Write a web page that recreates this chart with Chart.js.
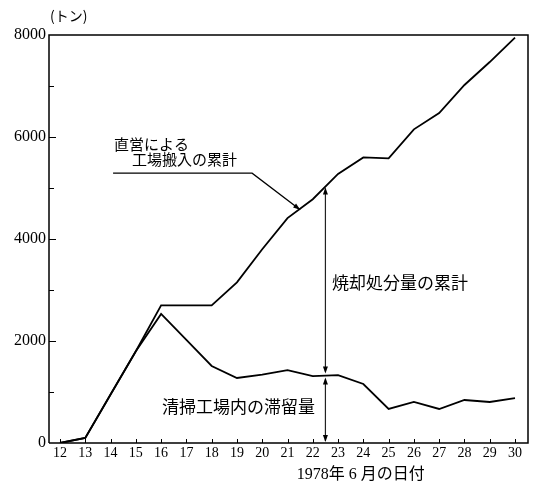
<!DOCTYPE html>
<html>
<head>
<meta charset="utf-8">
<script src="https://cdn.jsdelivr.net/npm/chart.js@4/dist/chart.umd.min.js"></script>
<style>
  html, body { margin: 0; padding: 0; background: #fff; }
  #wrap { width: 536px; height: 485px; }
</style>
</head>
<body>
<div id="wrap"><canvas id="c" width="536" height="485"></canvas></div>
<script>
// June 1978, day of month
const days = [12, 13, 14, 15, 16, 17, 18, 19, 20, 21, 22, 23, 24, 25, 26, 27, 28, 29, 30];
// cumulative tonnage delivered to the plants by the city's own collection
const cumulativeDelivered = [0, 100, 950, 1800, 2700, 2700, 2700, 3150, 3800, 4410, 4780, 5275, 5600, 5580, 6150, 6470, 7020, 7470, 7950];
// tonnage held inside the cleaning plants
const plantStock = [0, 100, 950, 1800, 2530, 2020, 1510, 1275, 1340, 1430, 1313, 1330, 1157, 667, 804, 667, 843, 804, 882];
const yTickLabels = [0, 2000, 4000, 6000, 8000];

const unitLabel = '(トン)';
const xTitle = '1978年 6 月の日付';
const deliveredLabel = ['直営による', '工場搬入の累計'];
const burnedLabel = '焼却処分量の累計';
const stockLabel = '清掃工場内の滞留量';

const serif = '"Liberation Serif", "Noto Sans CJK JP", serif';
const jp = '"Noto Sans CJK JP", sans-serif';

function valueAt(arr, day) {
  const i = Math.floor(day - days[0]);
  const f = day - days[0] - i;
  if (i >= arr.length - 1) return arr[arr.length - 1];
  return arr[i] + (arr[i + 1] - arr[i]) * f;
}

function arrowHead(ctx, x, y, angle) {
  const len = 7, half = 2.5;
  ctx.save();
  ctx.translate(x, y);
  ctx.rotate(angle);
  ctx.beginPath();
  ctx.moveTo(0, 0);
  ctx.lineTo(-len, -half);
  ctx.lineTo(-len, half);
  ctx.closePath();
  ctx.fill();
  ctx.restore();
}

const decorations = {
  id: 'decorations',
  afterDraw(chart) {
    const { ctx, chartArea: a, scales: { x, y } } = chart;
    ctx.save();
    ctx.strokeStyle = '#000';
    ctx.fillStyle = '#000';

    // frame
    ctx.lineWidth = 1.5;
    ctx.beginPath();
    ctx.moveTo(a.left, a.bottom);
    ctx.lineTo(a.left, a.top);
    ctx.lineTo(a.right, a.top);
    ctx.lineTo(a.right, a.bottom);
    ctx.lineTo(a.left, a.bottom);
    ctx.stroke();

    // inward tick marks
    ctx.lineWidth = 1;
    ctx.beginPath();
    for (let v = 1000; v < 8000; v += 1000) {
      const py = Math.round(y.getPixelForValue(v)) + 0.5;
      const len = v % 2000 === 0 ? 7 : 5;
      ctx.moveTo(a.left, py);
      ctx.lineTo(a.left + len, py);
    }
    days.forEach(d => {
      const px = Math.round(x.getPixelForValue(d)) + 0.5;
      ctx.moveTo(px, a.bottom);
      ctx.lineTo(px, a.bottom - 4);
    });
    ctx.stroke();

    // burned amount: gap between delivered and stock, and stock down to zero
    const dMid = 22.5;
    const px = x.getPixelForValue(dMid);
    const yTop = y.getPixelForValue(valueAt(cumulativeDelivered, dMid));
    const yMid = y.getPixelForValue(valueAt(plantStock, dMid));
    const yZero = y.getPixelForValue(0);
    ctx.strokeStyle = '#222';
    ctx.lineWidth = 1.2;
    ctx.beginPath();
    ctx.moveTo(px, yTop + 2);
    ctx.lineTo(px, yMid - 4);
    ctx.moveTo(px, yMid + 4);
    ctx.lineTo(px, yZero - 2);
    ctx.stroke();
    arrowHead(ctx, px, yTop + 1, -Math.PI / 2);
    arrowHead(ctx, px, yMid - 2, Math.PI / 2);
    arrowHead(ctx, px, yMid + 2, -Math.PI / 2);
    arrowHead(ctx, px, yZero - 1, Math.PI / 2);

    // leader from the delivered label to its line
    const lx0 = x.getPixelForValue(14.1);
    const lx1 = x.getPixelForValue(19.6);
    const ly = y.getPixelForValue(5290);
    const tDay = 21.5;
    const tx = x.getPixelForValue(tDay);
    const ty = y.getPixelForValue(valueAt(cumulativeDelivered, tDay)) + 1;
    ctx.strokeStyle = '#000';
    ctx.lineWidth = 1.3;
    ctx.beginPath();
    ctx.moveTo(lx0, ly);
    ctx.lineTo(lx1, ly);
    ctx.lineTo(tx, ty);
    ctx.stroke();
    arrowHead(ctx, tx, ty, Math.atan2(ty - ly, tx - lx1));

    // texts
    ctx.textBaseline = 'middle';
    ctx.textAlign = 'left';
    ctx.font = '15px ' + jp;
    ctx.fillText(deliveredLabel[0], 114, 144);
    ctx.fillText(deliveredLabel[1], 132, 159);
    ctx.font = '17px ' + jp;
    ctx.fillText(burnedLabel, 332, 283);
    ctx.fillText(stockLabel, 162, 407);
    ctx.font = '14px ' + jp;
    ctx.fillText(unitLabel, 50, 16);
    ctx.textAlign = 'center';
    ctx.font = '16px ' + serif;
    ctx.fillText(xTitle, x.getPixelForValue(23.9), 475);
    ctx.restore();
  }
};

new Chart(document.getElementById('c'), {
  type: 'line',
  data: {
    datasets: [
      {
        data: days.map((d, i) => ({ x: d, y: cumulativeDelivered[i] })),
        borderColor: '#000', borderWidth: 1.8, pointRadius: 0, tension: 0, fill: false
      },
      {
        data: days.map((d, i) => ({ x: d, y: plantStock[i] })),
        borderColor: '#000', borderWidth: 1.8, pointRadius: 0, tension: 0, fill: false
      }
    ]
  },
  options: {
    responsive: false,
    animation: false,
    devicePixelRatio: 1,
    layout: { padding: { top: 35, right: 8, left: 0, bottom: 0 } },
    plugins: { legend: { display: false }, tooltip: { enabled: false } },
    scales: {
      x: {
        type: 'linear',
        min: 11.565,
        max: 30.514,
        afterBuildTicks: s => { s.ticks = days.map(d => ({ value: d })); },
        afterFit: s => { s.height = 42; },
        grid: { display: false, drawTicks: false },
        border: { display: false },
        ticks: { color: '#000', font: { family: serif, size: 14 }, padding: 2, maxRotation: 0, autoSkip: false,
                 callback: v => String(v) }
      },
      y: {
        min: 0,
        max: 8000,
        afterBuildTicks: s => { s.ticks = yTickLabels.map(v => ({ value: v })); },
        afterFit: s => { s.width = 49; },
        grid: { display: false, drawTicks: false },
        border: { display: false },
        ticks: { color: '#000', font: { family: serif, size: 16 }, padding: 3,
                 callback: v => String(v) }
      }
    }
  },
  plugins: [decorations]
});
</script>
</body>
</html>
